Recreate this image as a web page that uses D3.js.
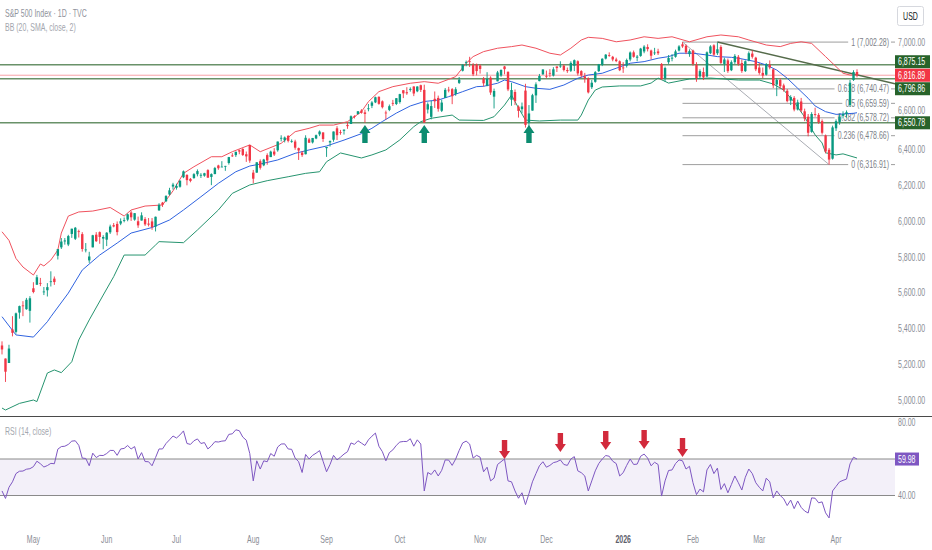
<!DOCTYPE html>
<html>
<head>
<meta charset="utf-8">
<script src="https://cdn.jsdelivr.net/npm/d3@7/dist/d3.min.js"></script>
<style>
html, body { margin: 0; padding: 0; background: #fff; }
svg { display: block; font-family: "Liberation Sans", Arial, sans-serif; }
</style>
</head>
<body>
<div id="chart"></div>
<script>
// daily candles [open, high, low, close], one array per month
const apr25 = [
  [5305,5328,5255,5282.7],[5232,5232,5101,5158.2],[5207,5309,5207,5287.8],[5395,5469,5356,5375.9],
  [5381,5489,5371,5484.8],[5489,5528,5455,5525.2],[5529,5553,5469,5528.8],[5508,5571,5505,5560.8],
  [5499,5581,5433,5569.1]
];
const may25 = [
  [5625,5659,5597,5604.1],[5645,5700,5644,5686.7],[5655,5683,5637,5650.4],[5605,5632,5587,5606.9],
  [5614,5654,5579,5631.3],[5663,5720,5635,5663.9],[5679,5691,5644,5659.9],[5807,5845,5786,5844.2],
  [5854,5906,5845,5886.6],[5887,5906,5869,5892.6],[5870,5924,5861,5916.9],[5929,5958,5907,5958.4],
  [5902,5968,5895,5963.6],[5944,5953,5909,5940.5],[5928,5939,5830,5844.6],[5841,5878,5826,5842.0],
  [5781,5829,5767,5802.8],[5854,5924,5854,5921.5],[5925,5939,5884,5888.6],[5939,5943,5874,5912.2],
  [5903,5922,5843,5911.7]
];
const jun25 = [
  [5897,5939,5861,5935.9],[5938,5981,5929,5970.4],[5978,5990,5966,5970.8],[5985,5999,5921,5939.3],
  [5987,6016,5978,6000.4],[6005,6021,5994,6005.9],[6009,6043,6000,6038.8],[6049,6059,6002,6022.2],
  [6009,6045,6003,6045.3],[6000,6026,5963,5977.0],[6004,6050,6004,6033.1],[6012,6023,5974,5982.7],
  [5987,6018,5971,5980.9],[5999,6018,5952,5967.8],[5970,6026,5943,6025.2],[6061,6101,6058,6092.2],
  [6104,6108,6080,6092.2],[6112,6146,6107,6141.0],[6150,6187,6145,6173.1],[6194,6215,6177,6205.0]
];
const jul25 = [
  [6187,6210,6177,6198.0],[6193,6227,6188,6227.4],[6246,6284,6241,6279.4],[6259,6263,6201,6230.0],
  [6237,6242,6218,6225.5],[6242,6269,6237,6263.3],[6263,6290,6251,6280.5],[6255,6269,6242,6259.8],
  [6255,6271,6249,6268.6],[6286,6291,6243,6243.8],[6248,6268,6202,6263.7],[6264,6304,6263,6297.4],
  [6312,6316,6288,6296.8],[6304,6336,6303,6305.6],[6306,6310,6282,6309.6],[6326,6360,6317,6358.9],
  [6368,6381,6360,6363.4],[6370,6389,6360,6388.6],[6397,6401,6375,6389.8],[6404,6409,6365,6370.9],
  [6375,6390,6332,6362.9],[6427,6427,6327,6339.4]
];
const aug25 = [
  [6272,6287,6212,6238.0],[6272,6330,6271,6329.9],[6336,6346,6289,6299.2],[6313,6349,6308,6345.1],
  [6370,6380,6316,6340.0],[6359,6395,6359,6389.5],[6390,6409,6365,6373.5],[6397,6446,6389,6445.8],
  [6465,6481,6447,6466.6],[6453,6474,6441,6468.5],[6478,6481,6441,6449.8],[6445,6458,6439,6449.2],
  [6446,6456,6400,6411.4],[6409,6412,6343,6395.8],[6384,6393,6360,6370.2],[6375,6481,6374,6466.9],
  [6458,6466,6438,6439.3],[6441,6466,6435,6465.9],[6463,6485,6459,6481.4],[6486,6508,6476,6501.9],
  [6497,6497,6444,6460.3]
];
const sep25 = [
  [6409,6416,6360,6415.5],[6441,6452,6418,6448.3],[6456,6502,6445,6502.1],[6520,6532,6454,6481.5],
  [6498,6511,6484,6495.2],[6506,6513,6485,6512.6],[6539,6555,6517,6532.0],[6544,6592,6544,6587.5],
  [6588,6593,6575,6584.3],[6600,6616,6597,6615.3],[6619,6627,6602,6606.8],[6609,6624,6551,6600.4],
  [6627,6656,6615,6632.0],[6646,6672,6633,6664.4],[6665,6697,6661,6693.8],[6696,6699,6652,6656.9],
  [6671,6676,6631,6638.0],[6608,6619,6569,6604.7],[6623,6653,6616,6643.7],[6662,6679,6645,6661.2],
  [6656,6689,6650,6688.5]
];
const oct25 = [
  [6667,6713,6658,6711.2],[6733,6733,6689,6715.4],[6722,6750,6707,6715.8],[6735,6749,6725,6740.3],
  [6754,6755,6700,6714.6],[6727,6755,6722,6753.7],[6761,6764,6723,6735.1],[6735,6764,6550.78,6552.5],
  [6625,6665,6603,6654.7],[6584,6674,6570,6644.3],[6685,6726,6634,6671.1],[6690,6703,6613,6629.1],
  [6618,6680,6611,6664.0],[6690,6745,6690,6735.1],[6736,6752,6721,6735.4],[6739,6745,6655,6699.4],
  [6712,6750,6702,6738.4],[6774,6807,6768,6791.7],[6842,6877,6838,6875.2],[6887,6899,6867,6890.9],
  [6895,6920,6863,6890.6],[6875,6885,6812,6822.3],[6877,6882,6816,6840.2]
];
const nov25 = [
  [6871,6878,6826,6852.0],[6798,6807,6754,6771.6],[6758,6834,6755,6796.3],[6803,6811,6707,6720.3],
  [6697,6742,6631,6728.8],[6783,6841,6783,6832.4],[6815,6849,6808,6846.6],[6866,6869,6822,6850.9],
  [6836,6838,6728,6737.5],[6680,6775,6646,6734.1],[6723,6737,6650,6672.4],[6641,6648,6580,6617.3],
  [6627,6664,6604,6642.2],[6731,6769,6524,6538.8],[6552,6650,6521,6603.0],[6619,6713,6619,6705.1],
  [6704,6777,6662,6765.9],[6784,6824,6783,6812.6],[6822,6850,6819,6849.1]
];
const dec25 = [
  [6813,6843,6800,6812],[6830,6851,6806,6829],[6815,6862,6810,6850],[6866,6866,6835,6857],
  [6867,6895,6858,6870],[6870,6878,6838,6846],[6846,6860,6830,6840],[6842,6895,6835,6886],
  [6870,6905,6840,6901],[6895,6900,6815,6827],[6840,6845,6805,6816],[6810,6830,6775,6800],
  [6800,6805,6715,6721],[6750,6790,6740,6775],[6780,6840,6775,6834],[6840,6880,6835,6878],
  [6875,6912,6868,6909],[6910,6935,6905,6932],[6930,6945,6920,6929],[6920,6925,6895,6905],
  [6905,6915,6890,6896],[6895,6900,6840,6845]
];
const jan26 = [
  [6860,6890,6830,6858],[6870,6910,6860,6902],[6905,6950,6895,6944],[6945,6955,6915,6920],
  [6915,6930,6895,6921],[6925,6970,6920,6966],[6950,6985,6940,6977],[6975,6990,6950,6963],
  [6955,6960,6905,6926],[6940,6970,6930,6944],[6950,6965,6930,6940],[6880,6885,6790,6796],
  [6800,6865,6780,6857],[6890,6930,6880,6913],[6910,6935,6895,6915],[6920,6960,6915,6950],
  [6955,6985,6950,6978],[6990,7002.28,6970,6978],[6982,6990,6935,6945],[6935,6962,6920,6952]
];
const feb26 = [
  [6955,6960,6870,6880],[6875,6890,6780,6800],[6810,6850,6795,6840],[6835,6860,6790,6805],
  [6810,6950,6805,6945],[6940,6985,6935,6978],[6984,6990,6925,6932],[6940,7000,6930,6962],
  [6975,6985,6880,6886],[6880,6915,6835,6905],[6900,6910,6830,6840],[6845,6900,6840,6890],
  [6890,6935,6880,6925],[6920,6930,6870,6880],[6885,6905,6830,6840],[6840,6900,6835,6895],
  [6900,6950,6895,6940],[6938,6955,6910,6920],[6915,6920,6840,6850]
];
const mar26 = [
  [6860,6885,6820,6830],[6830,6860,6800,6815],[6820,6885,6815,6878],[6875,6900,6850,6860],
  [6850,6855,6745,6760],[6765,6800,6700,6790],[6790,6800,6740,6755],[6760,6770,6725,6735],
  [6730,6740,6665,6672],[6675,6705,6650,6695],[6690,6700,6615,6625],[6625,6680,6620,6665],
  [6670,6690,6610,6620],[6615,6630,6560,6575],[6585,6600,6475,6495],[6500,6610,6495,6600],
  [6600,6635,6585,6595],[6595,6605,6545,6555],[6560,6570,6485,6495],[6480,6485,6380,6390],
  [6400,6410,6316.91,6345],[6350,6535,6345,6525]
];
const apr26 = [
  [6520,6570,6505,6560],[6555,6600,6540,6585],[6590,6615,6575,6600],[6600,6620,6580,6610],
  [6650,6790,6640,6775],[6790,6845,6785,6835],[6835,6850,6805,6816.89]
];

const months = [apr25, may25, jun25, jul25, aug25, sep25, oct25, nov25, dec25, jan26, feb26, mar26, apr26];
const monthNames = ["", "May", "Jun", "Jul", "Aug", "Sep", "Oct", "Nov", "Dec", "2026", "Feb", "Mar", "Apr"];

// Bollinger Bands (20, SMA, close, 2): [bar index, price]
const bbUpper = [
  [0,5941],[2,5893],[4,5792],[6,5744],[9,5699],[11,5761],[12,5750],[14,5783],[16,5839],[17,5934],
  [19,6029],[22,6052],[26,6057],[31,6077],[35,6029],[37,6063],[41,6085],[46,6091],[49,6170],[52,6268],
  [55,6305],[60,6361],[63,6361],[66,6389],[71,6427],[74,6389],[80,6436],[84,6501],[88,6520],[91,6538],
  [95,6538],[99,6557],[103,6613],[105,6669],[108,6725],[112,6753],[117,6772],[121,6781],[125,6772],
  [128,6794],[130,6809],[133,6884],[135,6921],[138,6949],[142,6968],[146,6977],[149,6986],[153,6968],
  [157,6940],[160,6930],[163,6968],[166,7014],[168,7029],[172,7023],[176,7004],[180,7014],[184,7032],
  [188,7023],[192,7032],[197,7004],[202,7032],[206,7042],[211,7032],[214,7014],[219,6986],[223,6977],
  [226,6995],[229,7004],[232,6995],[236,6921],[239,6865],[241,6828],[243,6818],[245,6818]
];
const bbBasis = [
  [0,5466],[4,5364],[9,5352],[13,5438],[14,5466],[19,5598],[23,5727],[28,5811],[33,5878],[37,5934],
  [43,5965],[48,6007],[52,6063],[57,6137],[62,6212],[67,6277],[71,6309],[74,6320],[79,6343],[84,6380],
  [88,6399],[93,6421],[98,6454],[103,6490],[106,6520],[109,6558],[113,6605],[117,6645],[121,6670],
  [125,6678],[128,6697],[132,6725],[136,6753],[138,6755],[142,6772],[144,6790],[146,6781],[150,6753],
  [153,6744],[157,6738],[161,6762],[165,6800],[168,6818],[172,6828],[176,6856],[180,6884],[184,6893],
  [188,6912],[191,6921],[194,6940],[198,6940],[202,6930],[205,6921],[209,6917],[211,6912],[216,6893],
  [219,6874],[222,6846],[225,6800],[228,6744],[231,6688],[233,6645],[236,6613],[239,6598],[241,6600],
  [244,6604],[245,6607]
];
const bbLower = [
  [0,4955],[1,4944],[5,4981],[9,5000],[10,4991],[13,5151],[15,5168],[17,5153],[20,5214],[22,5336],
  [25,5448],[29,5587],[32,5690],[35,5811],[41,5811],[44,5867],[45,5886],[52,5880],[56,5951],[62,6063],
  [66,6156],[71,6203],[76,6227],[82,6249],[87,6268],[91,6277],[93,6333],[97,6382],[103,6354],[106,6371],
  [110,6399],[114,6455],[118,6529],[120,6557],[123,6576],[129,6594],[131,6566],[138,6564],[141,6585],
  [144,6650],[146,6706],[148,6634],[150,6566],[154,6561],[160,6566],[165,6566],[166,6594],[168,6678],
  [170,6734],[172,6751],[177,6757],[183,6757],[186,6773],[188,6801],[191,6773],[197,6796],[203,6801],
  [211,6790],[217,6790],[221,6768],[224,6734],[227,6667],[230,6583],[233,6483],[235,6438],[236,6383],
  [239,6371],[241,6377],[245,6354]
];

// RSI (14, close), one value per bar
const rsiValues = [
  42.5,38.4,44.5,47.5,52,53.3,53.4,54.4,54.7,
  55.8,58.8,57.4,55.6,56.4,57.6,57.4,65.4,66.8,67,68,69.8,70,67.5,60.5,60.3,56.3,63.2,60.8,62,61.9,
  63,64.7,64.7,62,65.5,65.8,67.4,65.5,66.8,60,63.5,58.6,58.5,56.3,60.8,65.5,65.5,68.5,70.5,72.6,
  71.5,73.2,75.4,68.5,68,70,71,68.5,69,65.5,67.2,69.5,69.3,69.8,70,73.5,73.8,76,75.5,72,70.3,63,
  48,59,54.5,59,58.5,63,61.5,66.6,68.2,68.3,65.5,65.3,60.5,58.5,52.6,62.5,60,62,63.2,64.6,58.8,
  53,57,62,59.5,61,62.7,64,68.8,68,70,68.7,67.4,70.5,72.5,74.2,67,64,59,63.5,65,67.5,
  69.3,69.6,69.6,71.1,67,70.5,68.2,42.5,52.6,51.5,54,50.7,53.8,59.5,59.4,56.5,60,64.7,68.8,69.8,68.2,60.5,62,
  61,53,55.5,48,49.5,57,58.5,60,48,47.5,42.5,38.5,41.5,35,41,47.5,52,56.3,58.5,
  55.5,56.5,58,58.5,59.5,57,56.5,60,61.3,53.5,52.5,50.7,42.5,48,53.5,57.5,60,61.9,61.5,58.8,57.5,50.7,
  52.5,56.5,60,57,57.2,61.5,62.7,60.5,56.3,58.2,57,39.7,48,53.7,54,57.5,59.5,59,54.5,56,
  47,40.5,43.5,42,54,57,52,55,43.3,46.5,41.5,46,50.7,47,43,50,54.5,52,47,
  44.5,42.5,49.5,47.5,38.7,42.5,40,38.2,34.5,37.5,32.8,37,33.5,31.5,30.4,38.7,38.5,36,36.5,30.5,27.7,42.5,
  45,47.5,48.3,49,57.3,61,59.98
];

// drawings
const levelLines = [6875.15, 6796.86, 6550.78];
const lastPrice = 6816.89;
const fibStart = 195, fibEnd = 237;
const fibHigh = 7002.28, fibLow = 6316.91;
const fibLevels = [1, 0.618, 0.5, 0.382, 0.236, 0];
const fibPrices = [7002.28, 6740.47, 6659.59, 6578.72, 6478.66, 6316.91];
const trendLine = [[205, 7003], [245, 6819]];
const upArrows = [[104, 6538], [121, 6538], [151, 6538]];
const rsiArrows = [[144, 60], [160, 63.8], [173, 64.9], [184, 65.5], [195, 61.1]];
const priceTicks = d3.range(5000, 7001, 200);
const rsiTicks = [80, 40];
const rsiBand = [60, 40];
const rsiLast = 59.98;

// ---- layout
const W = 932, H = 550;
const plotRight = 895, mainBottom = 416, rsiTop = 417, rsiBottom = 527;
const upColor = "#089981", downColor = "#f23645";

const candles = [].concat(...months);

const x = d3.scaleLinear().domain([0, candles.length - 1]).range([2, 857]);
const y = d3.scaleLinear().domain([5000, 7000]).range([400, 42.5]);
const yR = d3.scaleLinear().domain([40, 80]).range([495.5, 422.5]);

const svg = d3.select("#chart").append("svg")
    .attr("width", W)
    .attr("height", H);

const defs = svg.append("defs");
defs.append("clipPath").attr("id", "clipMain")
    .append("rect").attr("x", 0).attr("y", 0).attr("width", plotRight).attr("height", mainBottom);
defs.append("clipPath").attr("id", "clipRsi")
    .append("rect").attr("x", 0).attr("y", rsiTop).attr("width", plotRight).attr("height", rsiBottom - rsiTop);

// text is drawn a bit narrow like the screenshot
function label(g, tx, ty, s, o) {
    o = o || {};
    return g.append("text")
        .attr("transform", "translate(" + tx + "," + ty + ") scale(0.7,1)")
        .attr("text-anchor", o.anchor || "start")
        .attr("font-size", o.size || 10)
        .attr("font-weight", o.weight || null)
        .attr("fill", o.fill || "#8a8d96")
        .text(s);
}

// fib retracement (under the candles)
const fibG = svg.append("g");
fibG.append("line")
    .attr("x1", x(fibStart)).attr("y1", y(fibHigh))
    .attr("x2", x(fibEnd)).attr("y2", y(fibLow))
    .attr("stroke", "#a9acb3").attr("stroke-width", 1);
fibLevels.forEach((lv, k) => {
    const py = y(fibPrices[k]);
    const t = label(fibG, 889, py + 3.5, lv + " (" + d3.format(",.2f")(fibPrices[k]) + ")",
        { anchor: "end", fill: "#7c7f88" });
    const w = t.node().getBBox().width * 0.7;
    fibG.append("line")
        .attr("x1", x(fibStart)).attr("x2", 889 - w - 3)
        .attr("y1", py).attr("y2", py)
        .attr("stroke", "#9e9e9e").attr("stroke-width", 1);
    fibG.append("line")
        .attr("x1", 891).attr("x2", plotRight)
        .attr("y1", py).attr("y2", py)
        .attr("stroke", "#9e9e9e").attr("stroke-width", 1);
});

const main = svg.append("g").attr("clip-path", "url(#clipMain)");

// horizontal support / resistance lines
main.selectAll(".level")
    .data(levelLines)
    .enter()
    .append("line")
    .attr("x1", 0).attr("x2", plotRight)
    .attr("y1", d => y(d)).attr("y2", d => y(d))
    .attr("stroke", "#4f7f4f")
    .attr("stroke-width", 1.6)
    .attr("opacity", 0.85);

// last price line
main.append("line")
    .attr("x1", 0).attr("x2", plotRight)
    .attr("y1", y(lastPrice)).attr("y2", y(lastPrice))
    .attr("stroke", downColor)
    .attr("stroke-width", 1)
    .attr("opacity", 0.45);

// trend line, extended to the right edge
const tx1 = x(trendLine[0][0]), ty1 = y(trendLine[0][1]);
const tx2 = x(trendLine[1][0]), ty2 = y(trendLine[1][1]);
const slope = (ty2 - ty1) / (tx2 - tx1);
main.append("line")
    .attr("x1", tx1).attr("y1", ty1)
    .attr("x2", plotRight).attr("y2", ty1 + slope * (plotRight - tx1))
    .attr("stroke", "#556b4a").attr("stroke-width", 1.5);

// bollinger bands
const bandLine = d3.line().x(d => x(d[0])).y(d => y(d[1]));
main.append("path").datum(bbUpper).attr("d", bandLine)
    .attr("fill", "none").attr("stroke", "#f0525e").attr("stroke-width", 1);
main.append("path").datum(bbBasis).attr("d", bandLine)
    .attr("fill", "none").attr("stroke", "#2f63e0").attr("stroke-width", 1);
main.append("path").datum(bbLower).attr("d", bandLine)
    .attr("fill", "none").attr("stroke", "#26946f").attr("stroke-width", 1);

// candles
const bodyW = 2.4;
const candleG = main.selectAll(".candle")
    .data(candles)
    .enter()
    .append("g");
candleG.append("line")
    .attr("x1", (d, i) => x(i)).attr("x2", (d, i) => x(i))
    .attr("y1", d => y(d[1])).attr("y2", d => y(d[2]))
    .attr("stroke", d => d[3] >= d[0] ? upColor : downColor)
    .attr("stroke-width", 0.9);
candleG.append("rect")
    .attr("x", (d, i) => x(i) - bodyW / 2)
    .attr("width", bodyW)
    .attr("y", d => y(Math.max(d[0], d[3])))
    .attr("height", d => Math.max(0.8, Math.abs(y(d[0]) - y(d[3]))))
    .attr("fill", d => d[3] >= d[0] ? upColor : downColor);

// block arrows
function upArrow(cx, ty) {
    return "M" + cx + "," + ty + "L" + (cx + 5.5) + "," + (ty + 8) + "L" + (cx + 2.7) + "," + (ty + 8) +
        "L" + (cx + 2.7) + "," + (ty + 18) + "L" + (cx - 2.7) + "," + (ty + 18) + "L" + (cx - 2.7) + "," + (ty + 8) +
        "L" + (cx - 5.5) + "," + (ty + 8) + "Z";
}
function downArrow(cx, ty) {
    return "M" + cx + "," + ty + "L" + (cx + 5.5) + "," + (ty - 8) + "L" + (cx + 2.7) + "," + (ty - 8) +
        "L" + (cx + 2.7) + "," + (ty - 19) + "L" + (cx - 2.7) + "," + (ty - 19) + "L" + (cx - 2.7) + "," + (ty - 8) +
        "L" + (cx - 5.5) + "," + (ty - 8) + "Z";
}
main.selectAll(".uparrow")
    .data(upArrows)
    .enter()
    .append("path")
    .attr("d", d => upArrow(x(d[0]), y(d[1])))
    .attr("fill", "#0c8c70");

// pane separator
svg.append("line")
    .attr("x1", 0).attr("x2", W)
    .attr("y1", mainBottom + 0.5).attr("y2", mainBottom + 0.5)
    .attr("stroke", "#4a4a4a").attr("stroke-width", 1.2);

// ---- RSI pane
const rsiG = svg.append("g").attr("clip-path", "url(#clipRsi)");
rsiG.append("rect")
    .attr("x", 0).attr("width", plotRight)
    .attr("y", yR(rsiBand[0])).attr("height", yR(rsiBand[1]) - yR(rsiBand[0]))
    .attr("fill", "#7e57c2").attr("opacity", 0.09);
rsiG.selectAll(".bandline")
    .data(rsiBand)
    .enter()
    .append("line")
    .attr("x1", 0).attr("x2", plotRight)
    .attr("y1", d => yR(d)).attr("y2", d => yR(d))
    .attr("stroke", "#8a8a8a").attr("stroke-width", 1);
rsiG.append("path")
    .datum(rsiValues)
    .attr("d", d3.line().x((d, i) => x(i)).y(d => yR(d)))
    .attr("fill", "none")
    .attr("stroke", "#7e57c2")
    .attr("stroke-width", 1);
rsiG.selectAll(".downarrow")
    .data(rsiArrows)
    .enter()
    .append("path")
    .attr("d", d => downArrow(x(d[0]), yR(d[1])))
    .attr("fill", "#d22a3c");

// ---- price scale
const axisG = svg.append("g");

// price tags: last price stays put, the others are pushed away from it
let tags = levelLines.map(p => ({ p: p, c: "#27632a", cy: y(p) }));
const lastTag = { p: lastPrice, c: downColor, cy: y(lastPrice) };
tags.forEach(t => {
    if (Math.abs(t.cy - lastTag.cy) < 13.5) {
        t.cy = t.cy < lastTag.cy ? lastTag.cy - 13.5 : lastTag.cy + 13.5;
    }
});
tags.push(lastTag);

// tick labels: hide the ones under a tag, nudge the ones that only touch one
priceTicks.forEach(t => {
    let base = y(t) + 3.5;
    let hidden = false;
    tags.forEach(tg => {
        const top = base - 9.3, bottom = base + 2.3;
        const overlap = Math.min(bottom, tg.cy + 6.5) - Math.max(top, tg.cy - 6.5);
        if (overlap > 4) hidden = true;
        else if (overlap > 0) base += (base < tg.cy ? -1 : 1) * (overlap + 0.4);
    });
    if (!hidden) label(axisG, 898, base, d3.format(",.2f")(t), { fill: "#8a8d96" });
});
rsiTicks.forEach(t => {
    label(axisG, 898, yR(t) + 3.5, d3.format(".2f")(t), { fill: "#8a8d96" });
});

tags.forEach(t => {
    axisG.append("rect")
        .attr("x", 895).attr("y", t.cy - 6.5)
        .attr("width", 35).attr("height", 13)
        .attr("fill", t.c);
    label(axisG, 898, t.cy + 3.5, d3.format(",.2f")(t.p), { fill: "#fff" });
});
axisG.append("rect")
    .attr("x", 895).attr("y", yR(rsiLast) - 6.5)
    .attr("width", 24).attr("height", 13)
    .attr("fill", "#7e57c2");
label(axisG, 898, yR(rsiLast) + 3.5, d3.format(".2f")(rsiLast), { fill: "#fff" });

// currency box
axisG.append("rect")
    .attr("x", 897.5).attr("y", 6.5).attr("width", 26).attr("height", 19).attr("rx", 2)
    .attr("fill", "#fff").attr("stroke", "#d6d8de");
label(axisG, 910.5, 19.5, "USD", { anchor: "middle", fill: "#131722" });

// ---- time scale
let start = 0;
months.forEach((m, k) => {
    if (monthNames[k]) {
        label(svg, x(start), 543, monthNames[k], {
            anchor: "middle",
            fill: monthNames[k] === "2026" ? "#5d606b" : "#8a8d96",
            weight: monthNames[k] === "2026" ? "bold" : null
        });
    }
    start += m.length;
});

// ---- legends
label(svg, 5, 17, "S&P 500 Index \u00b7 1D \u00b7 TVC", { fill: "#8f939c" });
label(svg, 5, 31, "BB (20, SMA, close, 2)", { fill: "#a3a6ae" });
label(svg, 5, 435, "RSI (14, close)", { fill: "#a3a6ae" });
</script>
</body>
</html>
